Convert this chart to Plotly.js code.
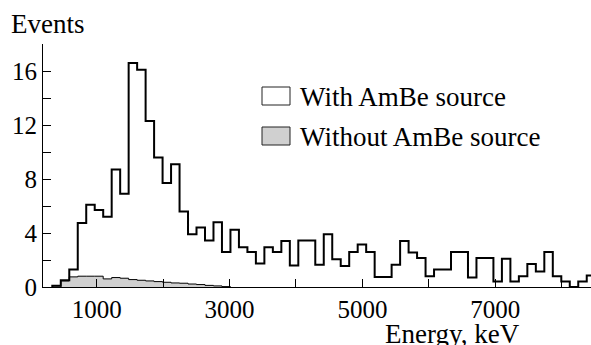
<!DOCTYPE html>
<html>
<head>
<meta charset="utf-8">
<script src="https://cdn.plot.ly/plotly-3.0.1.min.js"></script>
<style>html,body{margin:0;padding:0;background:#fff;}#chart{width:591px;height:345px;}</style>
</head>
<body>
<div id="chart"></div>
<script>
// Histogram binning (keV)
const binStart = 332;
const binWidth = 127.7;
// Counts per bin, with AmBe source
const withSource = [0.1, 0.5, 1.3, 4.75, 6.1, 5.7, 5.2, 8.7, 6.9, 16.6,
  16.1, 12.3, 9.6, 7.7, 9.1, 5.6, 3.9, 4.4, 3.45, 4.8,
  2.6, 4.25, 2.95, 2.6, 1.75, 2.95, 2.6, 3.4, 1.6, 3.45,
  3.45, 1.65, 3.9, 2.05, 1.55, 2.6, 3.15, 2.6, 0.75, 0.75,
  1.65, 3.4, 2.55, 2.15, 0.8, 1.3, 1.3, 2.6, 2.6, 0.7,
  2.15, 2.15, 0.4, 2.1, 0.4, 0.8, 1.7, 1.15, 2.6, 0.8,
  0.4, 0, 0.4, 0.85];
// Counts per bin, without AmBe source
const withoutSource = [0, 0.45, 0.75, 0.8, 0.8, 0.8, 0.6, 0.7, 0.65, 0.55,
  0.5, 0.45, 0.4, 0.35, 0.3, 0.28, 0.22, 0.18, 0.12, 0.08,
  0.03];
const xTickVals = [1000, 2000, 3000, 4000, 5000, 6000, 7000, 8000];
const xTickText = ['1000', '', '3000', '', '5000', '', '7000', ''];
const yTickVals = [0, 2, 4, 6, 8, 10, 12, 14, 16, 18];
const yTickText = ['0', '', '4', '', '8', '', '12', '', '16', ''];
const seriesNames = ['With AmBe source', 'Without AmBe source'];
const xTitle = 'Energy, keV';
const yTitle = 'Events';

function stepXY(vals) {
  const xs = [binStart], ys = [0];
  for (let i = 0; i < vals.length; i++) { xs.push(binStart + i * binWidth); ys.push(vals[i]); }
  xs.push(binStart + vals.length * binWidth); ys.push(vals[vals.length - 1]);
  xs.push(binStart + vals.length * binWidth); ys.push(0);
  return [xs, ys];
}
const [xw, yw] = stepXY(withSource);
const [xb, yb] = stepXY(withoutSource);

const L = 43, T = 44, PW = 548, PH = 243;
const px = v => (v - L) / PW;
const py = v => (T + PH - v) / PH;
const FONT = 'Liberation Serif';
const FS = 25, FT = 27;

const traces = [
  {x: xb, y: yb, type: 'scatter', mode: 'lines', line: {shape: 'hv', color: '#000', width: 1},
   fill: 'tozeroy', fillcolor: '#d0d0d0', name: seriesNames[1], showlegend: false, hoverinfo: 'skip'},
  {x: xw, y: yw, type: 'scatter', mode: 'lines', line: {shape: 'hv', color: '#000', width: 2},
   name: seriesNames[0], showlegend: false, hoverinfo: 'skip'}
];

const layout = {
  width: 591, height: 345,
  margin: {l: L, r: 0, t: T, b: 58},
  paper_bgcolor: '#fff', plot_bgcolor: '#fff',
  font: {family: FONT, size: FS, color: '#000'},
  showlegend: false,
  xaxis: {range: [192, 192 + PW / 0.06643], showline: true, linecolor: '#000', linewidth: 1,
    ticks: 'inside', ticklen: 8, tickwidth: 1, tickcolor: '#000',
    tickmode: 'array', tickvals: xTickVals, ticktext: xTickText,
    showgrid: false, zeroline: false, tickfont: {family: FONT, size: FS, color: '#000'}},
  yaxis: {range: [0, 18], showline: true, linecolor: '#000', linewidth: 1,
    ticks: 'inside', ticklen: 8, tickwidth: 1, tickcolor: '#000',
    tickmode: 'array', tickvals: yTickVals, ticktext: yTickText,
    showgrid: false, zeroline: false, tickfont: {family: FONT, size: FS, color: '#000'}},
  shapes: [
    {type: 'rect', xref: 'paper', yref: 'paper', x0: px(262), x1: px(290), y0: py(87), y1: py(105),
     line: {color: '#222', width: 1}, fillcolor: '#fff'},
    {type: 'rect', xref: 'paper', yref: 'paper', x0: px(262), x1: px(290), y0: py(127), y1: py(145),
     line: {color: '#222', width: 1}, fillcolor: '#d0d0d0'}
  ],
  annotations: [
    {text: seriesNames[0], xref: 'paper', yref: 'paper', x: px(298), y: py(97), xanchor: 'left', yanchor: 'middle', showarrow: false, font: {family: FONT, size: FT, color: '#000'}},
    {text: seriesNames[1], xref: 'paper', yref: 'paper', x: px(298), y: py(137), xanchor: 'left', yanchor: 'middle', showarrow: false, font: {family: FONT, size: FT, color: '#000'}},
    {text: yTitle, xref: 'paper', yref: 'paper', x: px(9), y: py(24), xanchor: 'left', yanchor: 'middle', showarrow: false, font: {family: FONT, size: FT, color: '#000'}},
    {text: xTitle, xref: 'paper', yref: 'paper', x: px(522), y: py(334), xanchor: 'right', yanchor: 'middle', showarrow: false, font: {family: FONT, size: FT, color: '#000'}}
  ]
};

Plotly.newPlot('chart', traces, layout, {staticPlot: true, displayModeBar: false});
</script>
</body>
</html>
